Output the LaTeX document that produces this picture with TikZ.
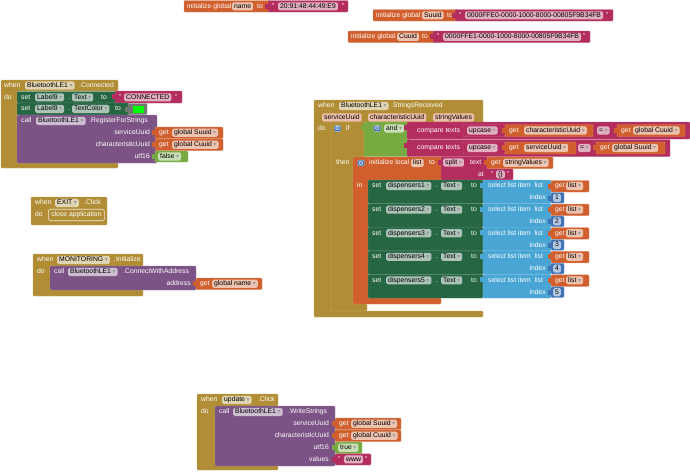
\documentclass[tikz,border=0pt]{standalone}
\usepackage{fontspec}
\setmainfont{Liberation Sans}
\newfontfamily\symfont{DejaVu Sans}
\newcommand{\fsz}{\fontsize{6.8}{7}\selectfont}
\newcommand{\dd}{\hspace{1.5pt}{\symfont\fontsize{6}{6}\selectfont\color{black!40}▾}\hspace{1pt}}
\newcommand{\valtab}[3]{\fill[#1] (#2-3,#3+3) rectangle (#2+0.5,#3+8);}
\definecolor{evtc}{HTML}{B18E35}
\definecolor{varc}{HTML}{D05F2D}
\definecolor{txtc}{HTML}{B32D5E}
\definecolor{setc}{HTML}{266643}
\definecolor{callc}{HTML}{7C5385}
\definecolor{logc}{HTML}{77AB41}
\definecolor{lstc}{HTML}{49A6D4}
\definecolor{mthc}{HTML}{3F71B5}
\definecolor{colc}{HTML}{6E7A70}
\tikzset{
  blk/.style={rounded corners=1pt, fill=#1, draw=#1!75!white, line width=0.4pt},
  lbl/.style={text=white, inner sep=0pt, anchor=west, font=\fsz, text height=5pt, text depth=1.3pt},
  rlbl/.style={lbl, anchor=east},
  fld/.style={fill=white, fill opacity=.62, text opacity=1, text=black, rounded corners=1.5pt,
    inner xsep=2pt, inner ysep=0.9pt, anchor=west, font=\fsz, text height=5pt, text depth=1.3pt},
  pfld/.style={fld, fill=varc!40!white, fill opacity=1},
  gearbox/.style={fill=mthc, draw=white!60!mthc, rounded corners=1pt, inner sep=0.6pt, text=white,
    font=\symfont\fontsize{6}{6}\selectfont},
}
\begin{document}
\begin{tikzpicture}[x=1pt,y=-1pt]
\useasboundingbox (0,0) rectangle (690,471);

% globals
\path[blk=varc] (184,0.5) rectangle (270,12);
\node[lbl] (ig1) at (187,6.3) {initialize global};
\node[fld] (gname) at (232,6.3) {name};
\node[lbl] (ig1to) at (257,6.3) {to};
\path[blk=txtc] (268,0.5) rectangle (348,12); \valtab{txtc}{268}{0.5}
\node[lbl] (q1a) at (272,6.3) {"};
\node[fld] (vname) at (278,6.3) {20:91:48:44:49:E9};
\node[lbl] (q1b) at (342,6.3) {"};

\path[blk=varc] (373,9.5) rectangle (458,21);
\node[lbl] (ig2) at (376,15.3) {initialize global};
\node[fld] (gsuuid) at (422,15.3) {Suuid};
\node[lbl] (ig2to) at (447,15.3) {to};
\path[blk=txtc] (455,9.5) rectangle (613,21); \valtab{txtc}{455}{9.5}
\node[lbl] (q2a) at (459,15.3) {"};
\node[fld] (vsuuid) at (465,15.3) {0000FFE0-0000-1000-8000-00805F9B34FB};
\node[lbl] (q2b) at (606,15.3) {"};

\path[blk=varc] (348,31) rectangle (436,42.5);
\node[lbl] (ig3) at (351,36.8) {initialize global};
\node[fld] (gcuuid) at (397,36.8) {Cuuid};
\node[lbl] (ig3to) at (422,36.8) {to};
\path[blk=txtc] (433,31) rectangle (590,42.5); \valtab{txtc}{433}{31}
\node[lbl] (q3a) at (437,36.8) {"};
\node[fld] (vcuuid) at (443,36.8) {0000FFE1-0000-1000-8000-00805F9B34FB};
\node[lbl] (q3b) at (583,36.8) {"};

% BluetoothLE1.Connected
\path[blk=evtc] (1,80) -- (118,80) -- (118,91) -- (17,91) -- (17,163) -- (118,163) -- (118,168) -- (1,168) -- cycle;
\node[lbl] (cwhen) at (4,85.5) {when};
\node[fld] (cble) at (25,85.5) {BluetoothLE1\dd};
\node[lbl] (cevt) at (79,85.5) {.Connected};
\node[lbl] (cdo) at (4,97.3) {do};
\path[blk=setc] (17,91.5) rectangle (116,103);
\node[lbl] (cset1) at (21,97.3) {set};
\node[fld] (clab1) at (35,97.3) {Label9\dd};
\node[lbl] (cdot1) at (68,97.3) {.};
\node[fld] (cprop1) at (72,97.3) {Text\dd};
\node[lbl] (cto1) at (101,97.3) {to};
\path[blk=txtc] (115,91) rectangle (182,103); \valtab{txtc}{115}{91}
\node[lbl] (cq1) at (119,97.3) {"};
\node[fld] (cconn) at (124,97.3) {CONNECTED};
\node[lbl] (cq2) at (175,97.3) {"};
\path[blk=setc] (17,103) rectangle (129,115);
\node[lbl] (cset2) at (21,109) {set};
\node[fld] (clab2) at (35,109) {Label9\dd};
\node[lbl] (cdot2) at (68,109) {.};
\node[fld] (cprop2) at (72,109) {TextColor\dd};
\node[lbl] (cto2) at (115,109) {to};
\path[blk=colc] (128,103.5) rectangle (147,114.5); \valtab{colc}{128}{103.5}
\fill[green] (133,106) rectangle (144,112.5);
\path[blk=callc] (17,115) rectangle (157,163);
\node[lbl] (ccall) at (21,121) {call};
\node[fld] (cble2) at (36,121) {BluetoothLE1\dd};
\node[lbl] (creg) at (89,121) {.RegisterForStrings};
\node[rlbl] (csvc) at (150,132.7) {serviceUuid};
\node[rlbl] (cchr) at (150,144.7) {characteristicUuid};
\node[rlbl] (cutf) at (150,156.5) {utf16};
\path[blk=varc] (155,127) rectangle (223,138.5); \valtab{varc}{155}{127}
\node[lbl] (cget1) at (159,132.7) {get};
\node[fld] (cgs) at (172,132.7) {global Suuid\dd};
\path[blk=varc] (155,139) rectangle (223,150.5); \valtab{varc}{155}{139}
\node[lbl] (cget2) at (159,144.7) {get};
\node[fld] (cgc) at (172,144.7) {global Cuuid\dd};
\path[blk=logc] (155,151) rectangle (188,162); \valtab{logc}{155}{151}
\node[fld] (cfalse) at (158,156.5) {false\dd};

% EXIT.Click
\path[blk=evtc] (31,197) rectangle (107,225);
\node[lbl] (ewhen) at (35,203) {when};
\node[fld] (eexit) at (55,203) {EXIT\dd};
\node[lbl] (eclick) at (84,203) {.Click};
\node[lbl] (edo) at (35,215) {do};
\node[lbl, draw=white!80!evtc, line width=0.6pt, rounded corners=2.5pt, inner xsep=3pt, minimum height=11.5pt] (eclose) at (48,215) {close application};

% MONITORING.Initialize
\path[blk=evtc] (33,254) -- (143,254) -- (143,266) -- (50,266) -- (50,290) -- (143,290) -- (143,296) -- (33,296) -- cycle;
\node[lbl] (mwhen) at (37,260) {when};
\node[fld] (mmon) at (57,260) {MONITORING\dd};
\node[lbl] (minit) at (114,260) {.Initialize};
\node[lbl] (mdo) at (37,272) {do};
\path[blk=callc] (50,266) rectangle (196,290);
\node[lbl] (mcall) at (54,272) {call};
\node[fld] (mble) at (68,272) {BluetoothLE1\dd};
\node[lbl] (mconn) at (123,272) {.ConnectWithAddress};
\node[rlbl] (maddr) at (191,283.7) {address};
\path[blk=varc] (196,278) rectangle (262,289.5); \valtab{varc}{196}{278}
\node[lbl] (mget) at (200,283.7) {get};
\node[fld] (mgn) at (212,283.7) {global name\dd};

% BluetoothLE1.StringsReceived
\path[blk=evtc] (314,100) -- (483,100) -- (483,123) -- (331,123) -- (331,311) -- (483,311) -- (483,317) -- (314,317) -- cycle;
\node[lbl] (swhen) at (318,106) {when};
\node[fld] (sble) at (339,106) {BluetoothLE1\dd};
\node[lbl] (srecv) at (391,106) {.StringsReceived};
\node[pfld] (psvc) at (322,117.5) {serviceUuid};
\node[pfld] (pchr) at (368,117.5) {characteristicUuid};
\node[pfld] (pval) at (433,117.5) {stringValues};
\node[lbl] (sdo) at (318,128.5) {do};
\path[blk=evtc] (331,122) -- (367,122) -- (367,157) -- (353,157) -- (353,304) -- (367,304) -- (367,311) -- (331,311) -- cycle;
\node[gearbox] (ifgear) at (337.5,128.5) {⚙};
\node[lbl] (sif) at (346,128.5) {if};
\node[lbl] (sthen) at (336,162.5) {then};
\path[blk=logc] (364,122) rectangle (410,156.5); \valtab{logc}{364}{122}
\node[gearbox] (andgear) at (377,128.5) {⚙};
\node[fld] (sand) at (384,128.5) {and\dd};
% compare texts
\path[blk=txtc] (407,122) rectangle (690,139); \valtab{txtc}{407}{122}
\node[lbl] (cmp1) at (417,130.5) {compare texts};
\path[blk=txtc] (463,124.5) rectangle (505,136.5); \valtab{txtc}{463}{124.5}
\node[fld] (up1) at (467,130.5) {upcase\dd};
\path[blk=varc] (505,124.5) rectangle (593,136.5); \valtab{varc}{505}{124.5}
\node[lbl] (get1) at (509,130.5) {get};
\node[fld] (gchr) at (524,130.5) {characteristicUuid\dd};
\node[fld] (eq1) at (597,130.5) {=\dd};
\path[blk=varc] (617,124.5) rectangle (685,136.5); \valtab{varc}{617}{124.5}
\node[lbl] (get2) at (621,130.5) {get};
\node[fld] (ggc) at (633,130.5) {global Cuuid\dd};
\path[blk=txtc] (407,139.5) rectangle (670,156.5); \valtab{txtc}{407}{139.5}
\node[lbl] (cmp2) at (417,148) {compare texts};
\path[blk=txtc] (463,142) rectangle (505,154); \valtab{txtc}{463}{142}
\node[fld] (up2) at (467,148) {upcase\dd};
\path[blk=varc] (505,142) rectangle (576,154); \valtab{varc}{505}{142}
\node[lbl] (get3) at (509,148) {get};
\node[fld] (gsvc) at (524,148) {serviceUuid\dd};
\node[fld] (eq2) at (578,148) {=\dd};
\path[blk=varc] (596,142) rectangle (665,154); \valtab{varc}{596}{142}
\node[lbl] (get4) at (600,148) {get};
\node[fld] (ggs) at (612,148) {global Suuid\dd};
% initialize local
\path[blk=varc] (353,157) -- (442,157) -- (442,180) -- (368,180) -- (368,298) -- (441,298) -- (441,304) -- (353,304) -- cycle;
\node[gearbox] (locgear) at (361,163) {⚙};
\node[lbl] (sinit) at (369,163) {initialize local};
\node[fld] (slist) at (411,163) {list};
\node[lbl] (sto) at (429,163) {to};
\node[lbl] (sin) at (357,186) {in};
\path[blk=txtc] (441,156.5) -- (488,156.5) -- (488,168.5) -- (513,168.5) -- (513,180) -- (441,180) -- cycle;
\valtab{txtc}{441}{156.5}
\node[fld] (ssplit) at (443,162.5) {split\dd};
\node[lbl] (stext) at (470,162.5) {text};
\node[rlbl] (sat) at (484,174.3) {at};
\path[blk=varc] (487,157) rectangle (553,168.5); \valtab{varc}{487}{157}
\node[lbl] (get5) at (491,162.7) {get};
\node[fld] (gval) at (503,162.7) {stringValues\dd};
\node[lbl] (aq1) at (491,174.3) {"};
\node[fld] (abr) at (496,174.3) {\{\}};
\node[lbl] (aq2) at (507,174.3) {"};
% five setters
\foreach \k in {1,...,5} {
  \pgfmathsetmacro\yy{180+(\k-1)*23.6}
  \path[blk=setc] (368,\yy) rectangle (483,\yy+23.6);
  \node[lbl] (set\k) at (372,\yy+6) {set};
  \node[fld] (disp\k) at (386,\yy+6) {dispensers\k\dd};
  \node[lbl] (dot\k) at (436,\yy+6) {.};
  \node[fld] (txt\k) at (441,\yy+6) {Text\dd};
  \node[lbl] (to\k) at (471,\yy+6) {to};
  \path[blk=lstc] (483,\yy) rectangle (551,\yy+23.6); \valtab{lstc}{483}{\yy}
  \node[lbl] (sel\k) at (488,\yy+6) {select list item \ list};
  \node[rlbl] (idx\k) at (546,\yy+18) {index};
  \path[blk=varc] (551,\yy+0.5) rectangle (589,\yy+12); \valtab{varc}{551}{\yy+0.5}
  \node[lbl] (getl\k) at (555,\yy+6) {get};
  \node[fld] (lvar\k) at (566,\yy+6) {list\dd};
  \path[blk=mthc] (551,\yy+12.5) rectangle (564,\yy+23); \valtab{mthc}{551}{\yy+12.5}
  \node[fld] (num\k) at (553,\yy+17.8) {\k};
}

% update.Click
\path[blk=evtc] (197,394) -- (278,394) -- (278,406) -- (215,406) -- (215,466) -- (278,466) -- (278,470) -- (197,470) -- cycle;
\node[lbl] (uwhen) at (201,400) {when};
\node[fld] (uupd) at (222,400) {update\dd};
\node[lbl] (uclick) at (258,400) {.Click};
\node[lbl] (udo) at (201,411.5) {do};
\path[blk=callc] (215,406) rectangle (335,466);
\node[lbl] (ucall) at (219,412) {call};
\node[fld] (uble) at (233,412) {BluetoothLE1\dd};
\node[lbl] (uwrite) at (288,412) {.WriteStrings};
\node[rlbl] (usvc) at (329,423.7) {serviceUuid};
\node[rlbl] (uchr) at (329,435.7) {characteristicUuid};
\node[rlbl] (uutf) at (329,447.5) {utf16};
\node[rlbl] (uval) at (329,459.3) {values};
\path[blk=varc] (335,418) rectangle (401,429.5); \valtab{varc}{335}{418}
\node[lbl] (uget1) at (339,423.7) {get};
\node[fld] (ugs) at (351,423.7) {global Suuid\dd};
\path[blk=varc] (335,430) rectangle (401,441.5); \valtab{varc}{335}{430}
\node[lbl] (uget2) at (339,435.7) {get};
\node[fld] (ugc) at (351,435.7) {global Cuuid\dd};
\path[blk=logc] (335,442) rectangle (362,453.5); \valtab{logc}{335}{442}
\node[fld] (utrue) at (338,447.7) {true\dd};
\path[blk=txtc] (335,453.8) rectangle (371,465); \valtab{txtc}{335}{453.8}
\node[lbl] (uq1) at (338,459.4) {"};
\node[fld] (uwww) at (344,459.4) {www};
\node[lbl] (uq2) at (365,459.4) {"};
\end{tikzpicture}
\end{document}
